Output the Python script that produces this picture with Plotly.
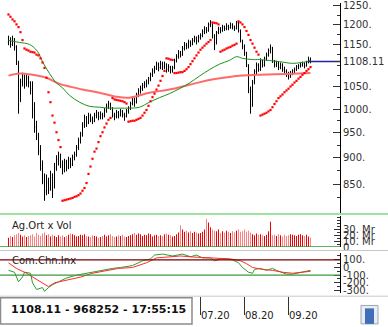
import math
import plotly.graph_objects as go

W, H = 388, 327

# ---------------- data ----------------
opens = [1155,1160,1150,1163,1142,1105,1020,1062,1072,1058,1068,1058,1045,998,962,940,912,880,855,838,
         852,842,862,845,880,896,900,885,878,890,882,894,888,900,906,920,934,948,966,980,
         972,985,976,976,986,990,984,988,986,998,1005,1010,1000,986,985,992,988,994,987,985,
         996,1003,1012,1020,1016,1032,1040,1046,1052,1055,1060,1068,1078,1086,1092,1100,1095,1102,1096,1100,
         1090,1094,1088,1094,1110,1120,1128,1126,1140,1148,1146,1154,1152,1160,1164,1160,1168,1172,1182,1188,
         1186,1200,1200,1168,1155,1180,1188,1186,1194,1190,1196,1193,1198,1194,1192,1204,1184,1158,1144,1128,
         1098,1042,1010,1060,1085,1100,1090,1108,1100,1116,1124,1136,1140,1108,1100,1104,1094,1100,1090,1085,
         1080,1072,1080,1086,1090,1096,1098,1100,1104,1098,1106,1114]
highs = [1172,1168,1172,1166,1148,1110,1068,1082,1078,1080,1075,1062,1062,1015,975,950,925,895,870,868,
         862,875,870,890,905,912,908,895,898,896,902,900,906,912,925,940,952,972,988,985,
         992,990,984,992,998,994,995,992,1002,1012,1018,1014,1004,992,998,996,1000,998,992,1000,
         1006,1016,1028,1025,1036,1046,1052,1058,1062,1066,1072,1082,1092,1098,1108,1106,1110,1108,1108,1104,
         1102,1098,1098,1115,1126,1136,1134,1146,1156,1154,1162,1160,1166,1172,1170,1174,1178,1188,1196,1194,
         1206,1212,1204,1176,1184,1195,1194,1200,1198,1204,1200,1206,1204,1198,1210,1208,1188,1162,1150,1132,
         1102,1050,1065,1090,1106,1104,1116,1112,1120,1130,1140,1150,1144,1112,1110,1108,1106,1104,1096,1090,
         1084,1086,1090,1094,1100,1102,1106,1108,1106,1110,1120,1118]
lows = [1148,1142,1146,1135,1100,990,1015,1050,1045,1050,1048,1032,980,950,935,905,875,850,820,830,
        832,838,825,842,875,885,880,868,872,874,878,880,884,895,902,915,928,942,960,962,
        968,972,968,972,980,976,978,978,982,992,1000,998,982,976,980,980,984,982,975,982,
        990,998,1008,1005,1012,1026,1034,1040,1046,1048,1055,1062,1072,1080,1088,1085,1090,1088,1090,1082,
        1084,1080,1082,1090,1106,1115,1118,1122,1135,1138,1140,1144,1148,1155,1150,1155,1162,1168,1176,1178,
        1182,1194,1165,1136,1150,1176,1178,1182,1184,1186,1186,1190,1188,1184,1188,1180,1155,1138,1122,1095,
        1035,990,1005,1055,1078,1084,1086,1094,1096,1110,1120,1128,1105,1094,1095,1088,1090,1084,1078,1072,
        1066,1070,1076,1080,1086,1090,1094,1096,1092,1096,1104,1104]
closes = [1160,1150,1165,1145,1110,1010,1060,1075,1055,1070,1060,1040,1000,960,945,915,885,860,835,855,
          840,868,838,882,898,905,888,876,892,880,896,886,902,906,920,935,946,966,982,970,
          986,978,974,986,992,982,988,984,996,1006,1012,1004,988,984,993,986,996,988,984,996,
          1002,1012,1022,1014,1032,1040,1046,1052,1056,1060,1068,1078,1086,1092,1102,1094,1104,1096,1102,1090,
          1096,1088,1093,1110,1120,1130,1124,1140,1150,1144,1156,1150,1160,1166,1158,1168,1172,1182,1190,1185,
          1200,1204,1172,1150,1180,1190,1184,1196,1190,1198,1192,1200,1195,1190,1205,1186,1160,1145,1130,1100,
          1045,1005,1058,1085,1100,1090,1110,1100,1115,1125,1135,1142,1110,1100,1105,1094,1100,1090,1085,1080,
          1072,1080,1086,1090,1096,1098,1100,1104,1098,1106,1114,1108.11]
volumes = [16,19,17,20,22,24,21,18,20,17,19,
           20,22,18,24,21,19,23,25,20,22,18,21,19,17,20,
           18,20,17,19,21,23,22,20,18,19,21,20,22,19,18,17,20,19,18,16,
           17,19,21,18,20,22,19,17,18,20,19,21,18,17,19,
           20,22,24,21,23,22,19,21,20,23,22,18,20,21,19,
           20,19,22,23,21,20,18,19,22,25,
           37,30,26,28,25,27,24,26,25,23,
           24,26,30,48,42,34,30,28,27,30,
           24,27,25,28,26,24,27,25,28,30,26,27,30,26,28,
           25,22,20,23,21,22,20,19,21,27,43,
           20,21,19,22,20,18,21,19,20,22,21,20,19,21,22,20,19,21,18,16]

# parabolic SAR dots, one per bar
sar_vals = [1227,1221,1214,1209,1201,1194,1181,1161,1140,1137,1135,1132,1131,1130,1125,1123,1116,1106,1093,1070,
            1037,1015,986,971,951,935,921,820,821,822,823,824,825,827,828,830,833,838,843,852,
            869,883,898,912,918,931,943,951,961,969,977,981,1024,1021,1020,1019,1018,1017,1015,1012,
            973,974,975,975,977,979,981,986,992,998,1007,1017,1026,1034,1043,1052,1063,1074,1086,1116,
            1115,1113,1112,1081,1081,1082,1083,1083,1086,1090,1095,1102,1109,1116,1123,1130,1137,1142,1147,1152,
            1156,1161,1206,1205,1204,1201,1132,1135,1137,1140,1142,1144,1147,1149,1152,1209,1206,1201,1194,1184,
            1174,1161,1152,1142,1132,1125,986,988,990,992,995,998,1004,1011,1017,1024,1028,1032,1037,1041,
            1045,1050,1054,1059,1063,1068,1072,1077,1081,1086,1090,1095]

# moving averages (bar index, value)
ma_green_idx = [0,5.5,10.5,14.5,17,20.5,24,27,30.5,35.5,40.5,45.5,50.5,55.5,60.5,65.5,70.5,75.5,80.5,85.5,
                90.5,95.5,100.5,105.5,110.5,114,117,122,125.5,135.5,142,149,151]
ma_green_val = [1160,1155,1150,1133,1108,1080,1058,1047,1030,1015,1006,1004,1002,1002,1002,1004,1015,1025,1034,1045,
                1058,1074,1089,1102,1111,1120,1116,1113,1113,1108,1104,1108,1111]
ma_red_idx = [0,5.5,12,19,25.5,30.5,37,45.5,54,60.5,70.5,80.5,90.5,100.5,110.5,117,125.5,139,151]
ma_red_val = [1075,1080,1077,1070,1056,1050,1043,1036,1027,1025,1036,1043,1054,1065,1072,1075,1077,1079,1081]

# Commodity Channel Index panel
cci_idx = [0,3,5,7,8,11,12,14,17,18,20,22,25,29,34,39,46,52,56,62,67,71,73,77,82,87,91,94,97,101,103,106,
           109,112,115,117,120,122,123,126,129,132,134,137,139,142,146,148,151]
cci_val = [-37,-62,-187,-125,-62,-75,-200,-287,-262,-310,-262,-225,-187,-137,-100,-75,-37,-12,0,25,87,112,162,
           175,150,175,140,162,125,125,87,112,112,100,62,0,-62,-75,-25,-12,-37,-12,-37,-62,-87,-87,-62,-50,-37]
sig_idx = [0,4,9,12,16,20,23,29,36,42,49,55,62,69,74,79,86,92,101,111,116,119,122,127,132,137,142,147,151]
sig_val = [60,-12,-75,-125,-187,-250,-200,-162,-125,-75,-37,-12,0,62,125,137,150,137,125,112,87,50,0,-25,
           -37,-62,-75,-62,-50]

month_idx = [96, 118, 140]
month_lbl = ["07.20", "08.20", "09.20"]
price_ticks = [850, 900, 950, 1000, 1050, 1108.11, 1150, 1200, 1250]
price_ticktext = ["850.", "900.", "950.", "1000.", "1050.", "1108.11", "1150.", "1200.", "1250."]
price_minor = [800, 825, 875, 925, 975, 1025, 1075, 1100, 1125, 1175, 1225]
status_text = "1108.11 - 968252 - 17:55:15"

n = len(closes)
idx = list(range(n))
vol_colors = ["#f00000" if c >= o else "#ff8080" for o, c in zip(opens, closes)]


def py(y):
    return 1 - y / H


def px(x):
    return x / W


FONT = "DejaVu Sans"
fig = go.Figure()

fig.add_trace(go.Scatter(x=ma_red_idx, y=ma_red_val, mode="lines",
                         line=dict(color="#ff6a6a", width=2, shape="spline"), xaxis="x", yaxis="y"))
fig.add_trace(go.Scatter(x=ma_green_idx, y=ma_green_val, mode="lines",
                         line=dict(color="#1a921a", width=1, shape="spline"), xaxis="x", yaxis="y"))
fig.add_trace(go.Ohlc(x=idx, open=opens, high=highs, low=lows, close=closes,
                      increasing=dict(line=dict(color="#000", width=1)),
                      decreasing=dict(line=dict(color="#000", width=1)),
                      tickwidth=0.3, xaxis="x", yaxis="y"))
fig.add_trace(go.Scatter(x=idx, y=sar_vals, mode="markers",
                         marker=dict(color="#ff0000", size=2.2, symbol="square", line=dict(width=0)),
                         xaxis="x", yaxis="y"))
fig.add_trace(go.Scatter(x=[idx[-1] - 1, 166], y=[closes[-1], closes[-1]], mode="lines",
                         line=dict(color="#22229a", width=1.5), xaxis="x", yaxis="y", cliponaxis=False))

fig.add_trace(go.Bar(x=idx, y=volumes, marker=dict(color=vol_colors, line=dict(width=0)), width=0.5,
                     xaxis="x2", yaxis="y2"))

fig.add_trace(go.Scatter(x=cci_idx, y=cci_val, mode="lines", line=dict(color="#2e9a2e", width=1),
                         xaxis="x3", yaxis="y3"))
fig.add_trace(go.Scatter(x=sig_idx, y=sig_val, mode="lines", line=dict(color="#ff2a2a", width=1),
                         xaxis="x3", yaxis="y3"))

xr = [-4.25, 165.75]
xdom = [0, 340 / W]
hidden_x = dict(range=xr, domain=xdom, showgrid=False, zeroline=False, showticklabels=False,
                ticks="", showline=False, fixedrange=True)
tickfont = dict(family=FONT, size=10, color="#333")

fig.update_layout(
    width=W, height=H, margin=dict(l=0, r=0, t=0, b=0),
    paper_bgcolor="white", plot_bgcolor="white", showlegend=False, hovermode=False,
    font=dict(family=FONT, size=10, color="#222"),
    xaxis=dict(**hidden_x, anchor="y", rangeslider=dict(visible=False)),
    xaxis2=dict(**hidden_x, anchor="y2"),
    xaxis3=dict(range=xr, domain=xdom, anchor="free", position=6 / H, tickmode="array",
                tickvals=month_idx, ticktext=month_lbl, ticks="inside", ticklen=18, tickcolor="#333",
                tickwidth=1, ticklabelposition="inside right", ticklabelstandoff=-12, showticklabels=True,
                tickfont=dict(family=FONT, size=10, color="#222"), showline=False, showgrid=False,
                zeroline=False, fixedrange=True),
    yaxis=dict(domain=[py(216), 1], type="log",
               range=[math.log10(798.5), math.log10(1257.9)], side="right", anchor="x",
               showline=True, linecolor="#000", linewidth=1, ticks="inside", ticklen=7, tickcolor="#333",
               tickmode="array", tickvals=price_ticks, ticktext=price_ticktext, tickfont=tickfont,
               ticklabeloverflow="allow",
               minor=dict(tickmode="array", tickvals=price_minor, ticks="inside", ticklen=3, tickcolor="#333"),
               showgrid=False, zeroline=False, fixedrange=True),
    yaxis2=dict(domain=[py(251), py(219)], range=[0, 53], side="right", anchor="x2",
                showline=True, linecolor="#000", linewidth=1, ticks="inside", ticklen=6, tickcolor="#333",
                tickmode="array", tickvals=[0, 10, 20, 30], ticktext=["0", "10. Mr", "20. Mr", "30. Mr"],
                tickfont=tickfont, ticklabeloverflow="allow",
                minor=dict(dtick=5, ticks="inside", ticklen=3, tickcolor="#333"),
                showgrid=False, zeroline=False, fixedrange=True),
    yaxis3=dict(domain=[py(298), py(257)], range=[-330, 190], side="right", anchor="x3",
                showline=True, linecolor="#000", linewidth=1, ticks="inside", ticklen=6, tickcolor="#333",
                tickmode="array", tickvals=[-300, -200, -100, 0, 100],
                ticktext=["-300.", "-200.", "-100.", "0", "100."], tickfont=tickfont,
                ticklabeloverflow="allow",
                minor=dict(dtick=50, ticks="inside", ticklen=3, tickcolor="#333"),
                showgrid=False, zeroline=False, fixedrange=True),
)

shapes = [
    dict(type="line", xref="paper", yref="paper", x0=0, x1=1, y0=py(217), y1=py(217),
         line=dict(color="#7fd77f", width=1.5)),
    dict(type="line", xref="paper", yref="y2", x0=0, x1=340 / W, y0=0, y1=0,
         line=dict(color="#2a9a2a", width=1.5)),
    dict(type="line", xref="paper", yref="paper", x0=0, x1=1, y0=py(254.5), y1=py(254.5),
         line=dict(color="#c8c8c8", width=1)),
    dict(type="line", xref="paper", yref="y3", x0=0, x1=340 / W, y0=100, y1=100,
         line=dict(color="#7a0000", width=1.2)),
    dict(type="line", xref="paper", yref="y3", x0=0, x1=340 / W, y0=-100, y1=-100,
         line=dict(color="#3a9a3a", width=1.2)),
    dict(type="line", xref="paper", yref="paper", x0=0, x1=1, y0=py(301.5), y1=py(301.5),
         line=dict(color="#c8c8c8", width=1)),
    dict(type="rect", xref="paper", yref="paper", x0=px(0.5), x1=px(192), y0=py(303), y1=py(330),
         line=dict(color="#8c8c8c", width=1.5), fillcolor="rgba(0,0,0,0)"),
    dict(type="rect", xref="paper", yref="paper", x0=px(361), x1=px(378), y0=py(311), y1=py(330),
         line=dict(color="#9aa6b8", width=1), fillcolor="#e8edf4"),
    dict(type="rect", xref="paper", yref="paper", x0=px(365), x1=px(374), y0=py(314), y1=py(330),
         line=dict(width=0), fillcolor="#3f6fb8"),
]
fig.update_layout(shapes=shapes)

annotations = [
    dict(text=status_text, xref="paper", yref="paper", x=px(9), y=py(315), xanchor="left", yanchor="middle",
         showarrow=False, font=dict(family=FONT, size=11, color="#111", weight="bold")),
    dict(text="Ag.Ort x Vol", xref="paper", yref="paper", x=px(10), y=py(229), xanchor="left",
         yanchor="middle", showarrow=False, font=dict(family=FONT, size=10, color="#222")),
    dict(text="Com.Chn.Inx", xref="paper", yref="paper", x=px(10), y=py(265), xanchor="left",
         yanchor="middle", showarrow=False, font=dict(family=FONT, size=10, color="#222")),
]
fig.update_layout(annotations=annotations)

fig.write_html("out.html", config={"displayModeBar": False, "staticPlot": True})
